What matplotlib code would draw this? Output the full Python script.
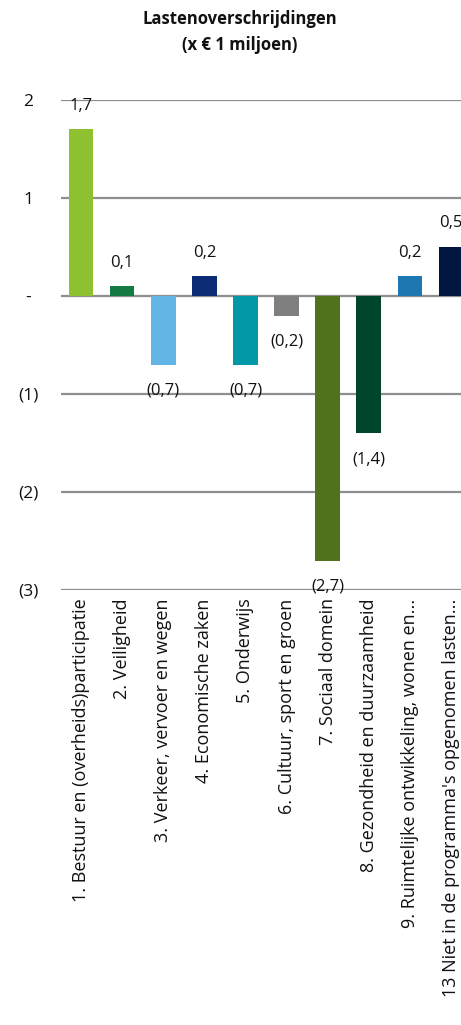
import matplotlib
matplotlib.use("Agg")
import matplotlib.pyplot as plt
from matplotlib.ticker import FixedLocator

categories = [
    "1. Bestuur en (overheids)participatie",
    "2. Veiligheid",
    "3. Verkeer, vervoer en wegen",
    "4. Economische zaken",
    "5. Onderwijs",
    "6. Cultuur, sport en groen",
    "7. Sociaal domein",
    "8. Gezondheid en duurzaamheid",
    "9. Ruimtelijke ontwikkeling, wonen en...",
    "13 Niet in de programma's opgenomen lasten...",
]
values = [1.7, 0.1, -0.7, 0.2, -0.7, -0.2, -2.7, -1.4, 0.2, 0.5]
colors = ["#8DC12F", "#137A42", "#62B5E5", "#0B2C74", "#0298A8",
          "#7F7F7F", "#50721A", "#00452A", "#1D77B0", "#00153F"]
yticks = [2, 1, 0, -1, -2, -3]
ytick_labels = ["2", "1", "-", "(1)", "(2)", "(3)"]

plt.rcParams["font.family"] = ["Open Sans", "DejaVu Sans"]

fig = plt.figure(figsize=(4.61, 10.25), dpi=100)
ax = fig.add_axes([60.5 / 461, 1 - 590 / 1025, 411 / 461, 490 / 1025])

x = list(range(len(values)))
ax.bar(x, values, width=0.6, color=colors, zorder=3)
ax.set_xlim(-0.5, len(values) - 0.5)
ax.set_ylim(-3, 2)

ax.yaxis.set_major_locator(FixedLocator(yticks))
ax.set_yticklabels(ytick_labels, fontsize=12.5, color="#111111")
for lbl in ax.get_yticklabels():
    lbl.set_horizontalalignment("center")
ax.tick_params(axis="y", length=0, pad=23)
ax.grid(axis="y", color="#8E8E8E", linewidth=1.6, zorder=1)
ax.set_axisbelow(True)

ax.set_xticks(x)
ax.set_xticklabels(categories, rotation=90, fontsize=13, va="top", ha="center",
                   color="#111111")
ax.tick_params(axis="x", length=0, pad=6)

for s in ax.spines.values():
    s.set_visible(False)

def fmt(v):
    s = f"{abs(v):.1f}".replace(".", ",")
    return f"({s})" if v < 0 else s

for xi, v in zip(x, values):
    off = 17 if v >= 0 else -19
    ax.annotate(fmt(v), (xi, v), xytext=(0, off), textcoords="offset points",
                ha="center", va="center", fontsize=12, color="#111111",
                annotation_clip=False, zorder=4)

fig.text(240 / 461, 1 - 32 / 1025, "Lastenoverschrijdingen\n(x € 1 miljoen)",
         ha="center", va="center", fontsize=12, fontweight="bold",
         linespacing=1.5, color="#111111")

fig.savefig("out.png", dpi=100)
